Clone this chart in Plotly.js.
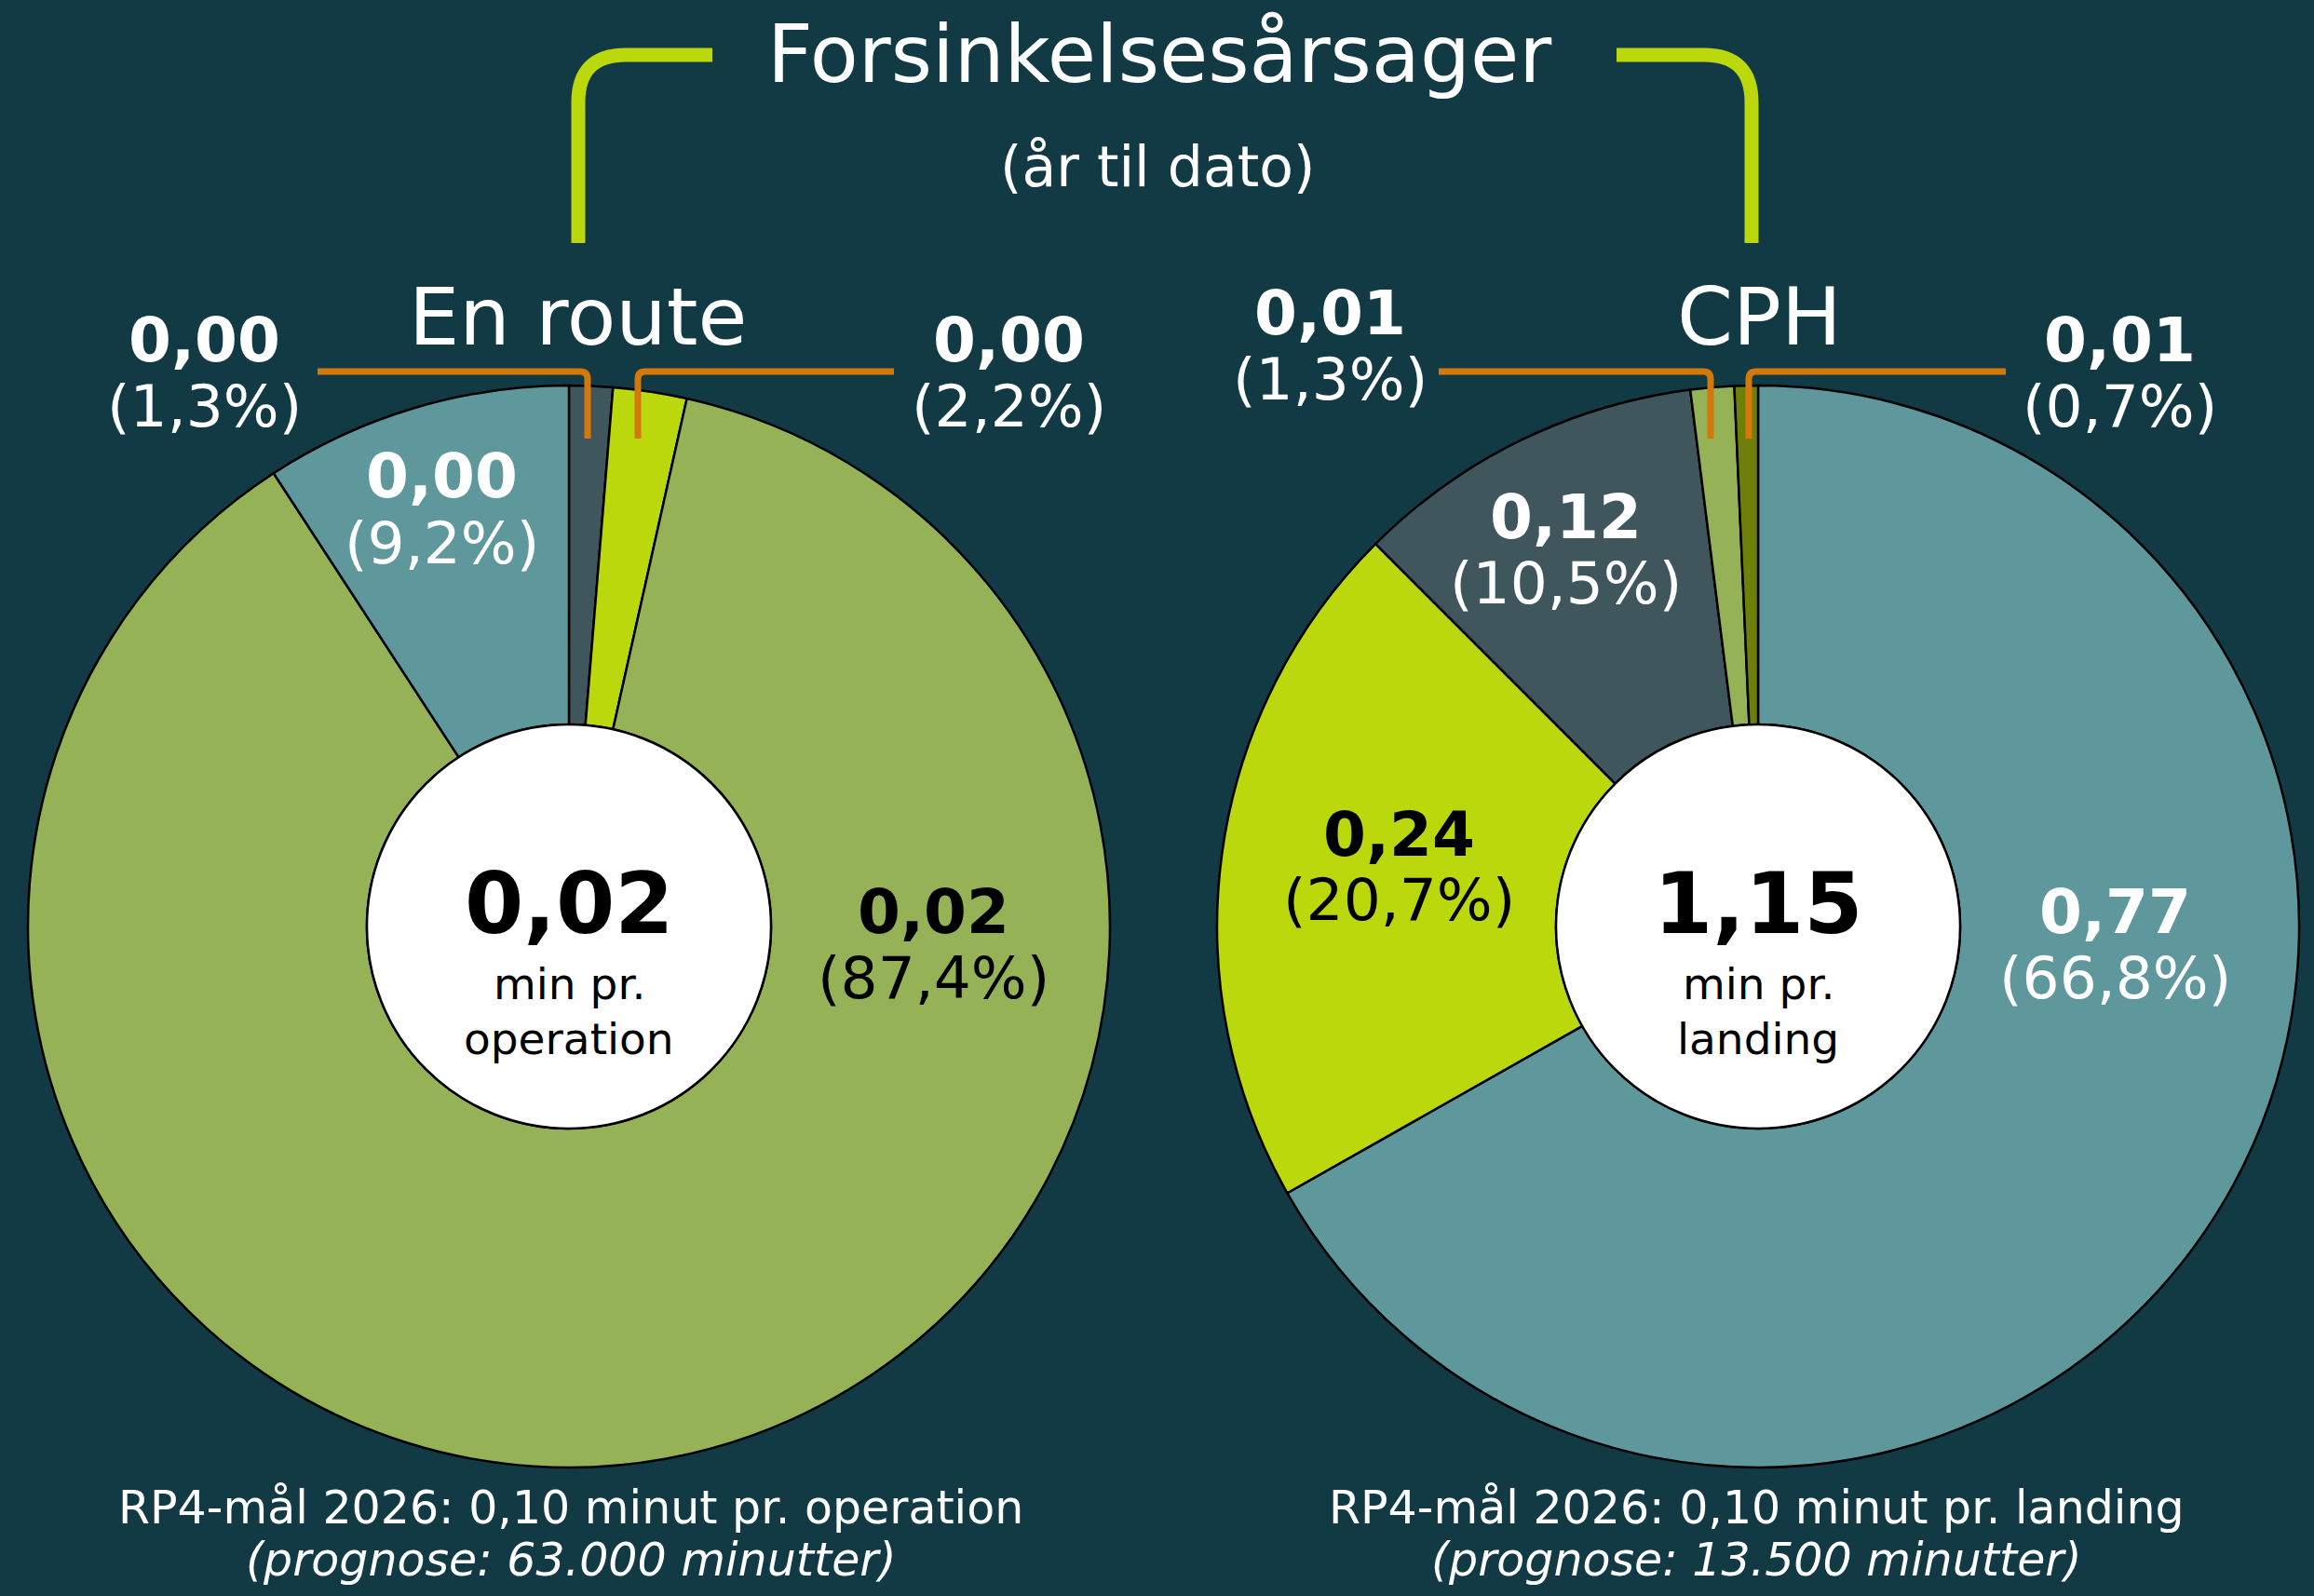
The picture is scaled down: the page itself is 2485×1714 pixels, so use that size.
<!DOCTYPE html>
<html>
<head>
<meta charset="utf-8">
<script src="https://cdn.plot.ly/plotly-3.0.1.min.js"></script>
<style>
  html, body { margin: 0; padding: 0; background: #123a44; }
  #chart { width: 2485px; height: 1714px; }
</style>
</head>
<body>
<div id="chart"></div>
<script>
// ---------------- DATA ----------------
const chartTitle = 'Forsinkelsesårsager';
const chartSubtitle = '(år til dato)';
const panelNames = ['En route', 'CPH'];

// cause keys (no legend in the original; colours identify the causes)
const enRouteCauses = ['Årsag A', 'Årsag B', 'Årsag C', 'Årsag D'];
const enRouteShare = [1.3, 2.2, 87.4, 9.2];          // % of delay
const enRouteMinutes = [0.00, 0.00, 0.02, 0.00];      // min per operation
const enRouteTotal = 0.02;

const cphCauses = ['Årsag D', 'Årsag B', 'Årsag A', 'Årsag C', 'Årsag E'];
const cphShare = [66.8, 20.7, 10.5, 1.3, 0.7];
const cphMinutes = [0.77, 0.24, 0.12, 0.01, 0.01];    // min per landing
const cphTotal = 1.15;

const unitLabels = ['operation', 'landing'];
const rp4Target = [0.10, 0.10];
const prognoseMinutes = [63000, 13500];

// ---------------- STYLE ----------------
const W = 2485, H = 1714;
const BG = '#123a44';
const FONT = 'DejaVu Sans, Verdana, sans-serif';
const causeColors = {
  'Årsag A': '#40565d',
  'Årsag B': '#bbd80c',
  'Årsag C': '#95b356',
  'Årsag D': '#5e989c',
  'Årsag E': '#6e800a'
};
const ORANGE = '#d4780c';
const LIME = '#bbd80c';

const fmt = (v, d) => v.toFixed(d).replace('.', ',');
const thousands = v => String(v).replace(/\B(?=(\d{3})+(?!\d))/g, '.');
const PX = x => x / W;
const PY = y => 1 - y / H;
const pt = (x, y) => PX(x) + ',' + PY(y);

// pie geometry (pixels)
const pies = [
  { cx: 611, cy: 995, r: 581 },
  { cx: 1888, cy: 995, r: 581 }
];
const holeR = 217;

function domainOf(p) {
  return { x: [PX(p.cx - p.r), PX(p.cx + p.r)], y: [PY(p.cy + p.r), PY(p.cy - p.r)] };
}

const traces = [
  {
    type: 'pie', labels: enRouteCauses, values: enRouteShare,
    marker: { colors: enRouteCauses.map(c => causeColors[c]), line: { color: '#000', width: 2.5 } },
    sort: false, direction: 'clockwise', rotation: 0, hole: holeR / pies[0].r,
    textinfo: 'none', hoverinfo: 'skip', showlegend: false, domain: domainOf(pies[0])
  },
  {
    type: 'pie', labels: cphCauses, values: cphShare,
    marker: { colors: cphCauses.map(c => causeColors[c]), line: { color: '#000', width: 2.5 } },
    sort: false, direction: 'clockwise', rotation: 0, hole: holeR / pies[1].r,
    textinfo: 'none', hoverinfo: 'skip', showlegend: false, domain: domainOf(pies[1])
  }
];

// ---------------- ANNOTATIONS ----------------
const ann = [];
function txt(x, y, text, size, color, extra) {
  ann.push(Object.assign({
    xref: 'paper', yref: 'paper', x: PX(x), y: PY(y), text: text, showarrow: false,
    xanchor: 'center', yanchor: 'middle', font: { family: FONT, size: size, color: color }
  }, extra || {}));
}

txt(1245, 58, chartTitle, 85, '#ffffff');
txt(1243, 179, chartSubtitle, 60, '#ffffff');
txt(620, 340, panelNames[0], 86, '#ffffff');
txt(1889, 340, panelNames[1], 86, '#ffffff');

// slice label positions (pixels) and text colours
const enRouteLabelPos = [[219, 365, '#fff'], [1083, 365, '#fff'], [1002, 979, '#000'], [474, 512, '#fff']];
const cphLabelPos = [[2271, 979, '#fff'], [1502, 896, '#000'], [1681, 555, '#fff'], [1428, 336, '#fff'], [2276, 365, '#fff']];
const LINE_GAP = 71;

function sliceLabels(minutes, share, pos) {
  minutes.forEach((m, i) => {
    const [x, y, c] = pos[i];
    txt(x, y, '<b>' + fmt(m, 2) + '</b>', 66, c);
    txt(x, y + LINE_GAP, '(' + fmt(share[i], 1) + '%)', 63, c);
  });
}
sliceLabels(enRouteMinutes, enRouteShare, enRouteLabelPos);
sliceLabels(cphMinutes, cphShare, cphLabelPos);

// centre totals
[enRouteTotal, cphTotal].forEach((t, i) => {
  const p = pies[i];
  txt(p.cx, p.cy - 25, '<b>' + fmt(t, 2) + '</b>', 91, '#000');
  txt(p.cx, p.cy + 61, 'min pr.', 47, '#000');
  txt(p.cx, p.cy + 120, unitLabels[i], 47, '#000');
});

// footnotes
const footX = [613, 1886];
footX.forEach((x, i) => {
  txt(x, 1619, 'RP4-mål 2026: ' + fmt(rp4Target[i], 2) + ' minut pr. ' + unitLabels[i], 49, '#ffffff');
  txt(x, 1675, '<i>(prognose: ' + thousands(prognoseMinutes[i]) + ' minutter)</i>', 49, '#ffffff');
});

// ---------------- SHAPES ----------------
const shapes = [];
pies.forEach(p => {
  shapes.push({
    type: 'circle', xref: 'paper', yref: 'paper', layer: 'above',
    x0: PX(p.cx - holeR), x1: PX(p.cx + holeR), y0: PY(p.cy + holeR), y1: PY(p.cy - holeR),
    fillcolor: '#ffffff', line: { color: '#000', width: 2.5 }
  });
});
function path(d, color, width) {
  shapes.push({ type: 'path', xref: 'paper', yref: 'paper', layer: 'above', path: d, line: { color: color, width: width } });
}
// orange leader lines
path('M' + pt(341, 399) + ' L' + pt(623, 399) + ' Q' + pt(631, 399) + ' ' + pt(631, 407) + ' L' + pt(631, 471), ORANGE, 7);
path('M' + pt(960, 399) + ' L' + pt(693, 399) + ' Q' + pt(685, 399) + ' ' + pt(685, 407) + ' L' + pt(685, 471), ORANGE, 7);
path('M' + pt(1545, 399) + ' L' + pt(1829, 399) + ' Q' + pt(1837, 399) + ' ' + pt(1837, 407) + ' L' + pt(1837, 471), ORANGE, 7);
path('M' + pt(2154, 399) + ' L' + pt(1886, 399) + ' Q' + pt(1878, 399) + ' ' + pt(1878, 407) + ' L' + pt(1878, 471), ORANGE, 7);
// lime bracket
path('M' + pt(621, 261) + ' L' + pt(621, 110) + ' Q' + pt(621, 59) + ' ' + pt(672, 59) + ' L' + pt(765, 59), LIME, 15);
path('M' + pt(1881, 261) + ' L' + pt(1881, 110) + ' Q' + pt(1881, 59) + ' ' + pt(1830, 59) + ' L' + pt(1736, 59), LIME, 15);

const layout = {
  width: W, height: H,
  margin: { l: 0, r: 0, t: 0, b: 0, pad: 0 },
  paper_bgcolor: BG, plot_bgcolor: BG,
  showlegend: false,
  annotations: ann,
  shapes: shapes,
  font: { family: FONT }
};

Plotly.newPlot('chart', traces, layout, { displayModeBar: false, staticPlot: true });
</script>
</body>
</html>
